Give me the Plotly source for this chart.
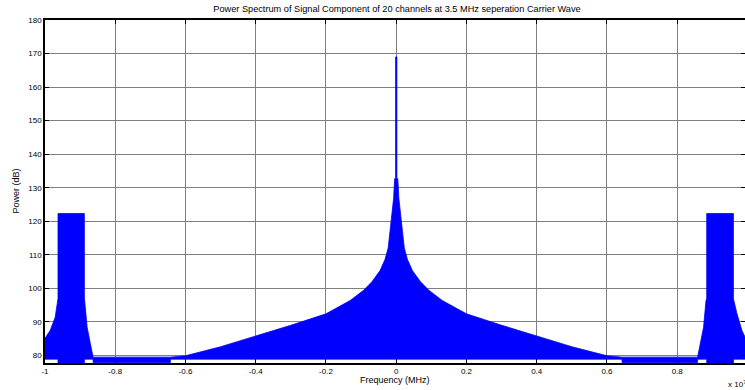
import numpy as np
import plotly.graph_objects as go

# Frequency axis in units of 1e7 Hz, power in dB.
# Upper outline of the dense spectrum, left to right
freq_upper = [-1.000, -0.985, -0.971, -0.966, -0.963, -0.963, -0.888, -0.888, -0.880, -0.871,
              -0.863, -0.643, -0.600, -0.500, -0.400, -0.300, -0.200, -0.131, -0.093, -0.069,
              -0.046, -0.032, -0.023, -0.015, -0.0075, -0.0045, -0.0018, -0.0018,
              0.0018, 0.0018, 0.0045, 0.0075, 0.015, 0.023, 0.032, 0.046,
              0.069, 0.093, 0.131, 0.200, 0.300, 0.400, 0.500, 0.600,
              0.643, 0.858, 0.865, 0.875, 0.882, 0.884, 0.884, 0.960, 0.960, 0.970,
              0.984, 0.993]
db_upper = [85.1, 87.5, 91.4, 96.0, 97.0, 122.3, 122.3, 97.4, 88.4, 83.6,
            79.5, 79.5, 79.9, 82.6, 85.7, 89.0, 92.4, 96.4, 99.4, 102.0,
            105.3, 108.6, 112.0, 119.0, 126.8, 132.7, 132.7, 169.0,
            169.0, 132.7, 132.7, 126.8, 119.0, 112.0, 108.6, 105.3,
            102.0, 99.4, 96.4, 92.4, 89.0, 85.7, 82.6, 79.9,
            79.5, 79.5, 83.5, 88.4, 96.4, 97.0, 122.3, 122.3, 96.9, 92.5,
            87.5, 85.5]

# Lower outline (the spectrum dips below the axis inside the carrier bands)
freq_lower = [-1.000, -0.963, -0.963, -0.888, -0.888, -0.863, -0.863, -0.643, -0.643,
              0.643, 0.643, 0.858, 0.858, 0.884, 0.884, 0.960, 0.960, 0.993]
db_lower = [78.9, 78.9, 70.0, 70.0, 78.9, 78.9, 77.9, 77.9, 78.9,
            78.9, 77.9, 77.9, 78.9, 78.9, 70.0, 70.0, 78.9, 78.9]

x_ticks = [-1, -0.8, -0.6, -0.4, -0.2, 0, 0.2, 0.4, 0.6, 0.8]
x_tick_text = ["-1", "-0.8", "-0.6", "-0.4", "-0.2", "0", "0.2", "0.4", "0.6", "0.8"]
y_ticks = [80, 90, 100, 110, 120, 130, 140, 150, 160, 170, 180]

x_range = [-1.0, 0.993]
y_range = [77.75, 180]

poly_x = np.concatenate([freq_upper, freq_lower[::-1]])
poly_y = np.concatenate([db_upper, db_lower[::-1]])

FONT = "Liberation Sans, Arial, sans-serif"
GRID = "#7f7f7f"

fig = go.Figure()
fig.add_trace(go.Scatter(
    x=poly_x, y=poly_y, mode="lines", fill="toself",
    fillcolor="#0000ff", line=dict(color="#0000ff", width=0.8),
    hoverinfo="skip", showlegend=False,
))
# right-hand tick marks (axis box edge)
fig.add_trace(go.Scatter(x=[], y=[], yaxis="y2", showlegend=False, hoverinfo="skip"))

fig.update_layout(
    width=745, height=390,
    margin=dict(l=45, r=0, t=20, b=27),
    paper_bgcolor="white", plot_bgcolor="white",
    font=dict(family=FONT, size=8, color="black"),
    xaxis=dict(
        range=x_range, tickvals=x_ticks, ticktext=x_tick_text,
        showgrid=True, gridcolor=GRID, gridwidth=0.8, zeroline=False,
        showline=True, linecolor="black", linewidth=1.5, mirror="ticks",
        ticks="inside", ticklen=4, tickcolor="black",
        tickfont=dict(size=8),
    ),
    yaxis=dict(
        range=y_range, tickvals=y_ticks,
        showgrid=True, gridcolor=GRID, gridwidth=0.8, zeroline=False,
        showline=True, linecolor="black", linewidth=1.5, mirror=False,
        ticks="inside", ticklen=4, tickcolor="black",
        tickfont=dict(size=8),
    ),
    yaxis2=dict(
        range=y_range, tickvals=y_ticks, overlaying="y", side="right",
        showgrid=False, zeroline=False, showline=False, showticklabels=False,
        ticks="inside", ticklen=4, tickcolor="black",
    ),
    title=dict(
        text="Power Spectrum of Signal Component of 20 channels at 3.5 MHz seperation Carrier Wave",
        x=397 / 745, xanchor="center", y=1 - 9 / 390, yanchor="middle",
        yref="container", font=dict(size=9.2),
    ),
    annotations=[
        dict(text="Frequency (MHz)", x=0.5, y=-17 / 343, xref="paper", yref="paper",
             xanchor="center", yanchor="middle", showarrow=False, font=dict(size=9)),
        dict(text="Power (dB)", x=-30 / 700, y=0.5, xref="paper", yref="paper",
             xanchor="center", yanchor="middle", textangle=-90, showarrow=False,
             font=dict(size=9)),
        dict(text="x 10<sup>7</sup>", x=681 / 700, y=-21 / 343, xref="paper", yref="paper",
             xanchor="left", yanchor="middle", showarrow=False, font=dict(size=8)),
    ],
)

fig.write_html("out.html")
